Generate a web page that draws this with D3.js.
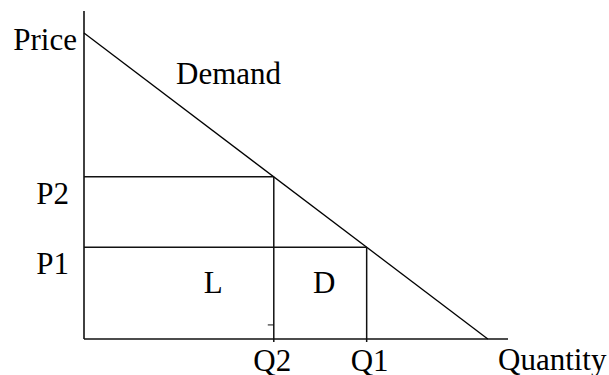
<!DOCTYPE html>
<html>
<head>
<meta charset="utf-8">
<script src="https://cdn.jsdelivr.net/npm/d3@7"></script>
<style>
  body { margin: 0; background: #fff; }
  text { font-family: "Liberation Serif", "Times New Roman", serif; font-size: 31px; fill: #000; }
</style>
</head>
<body>
<div id="canvas"></div>
<script>
"use strict";

let svgWidth = 609;
let svgHeight = 375;

/* Data */
// demand: P = 10 - Q
let demandQ = [0, 10];
let demandP = [10, 0];

// price levels and the quantities they meet on the demand line
let priceNames = ["P1", "P2"];
let priceValues = [3, 5.3];
let quantityNames = ["Q1", "Q2"];
let quantityValues = [7, 4.7];

// axis extents
let quantityAxisMax = 10.5;
let priceAxisMax = 10.72;

// area labels
let areaNames = ["L", "D"];
let areaQ = [3.2, 5.95];
let areaP = [1.5, 1.5];

/* Canvas */
let svg = d3.select("#canvas")
  .append("svg")
  .attr("width", svgWidth)
  .attr("height", svgHeight);

/* Scales */
let xScale = d3.scaleLinear()
  .domain([0, quantityAxisMax])
  .range([84, 508]);

let yScale = d3.scaleLinear()
  .domain([0, 10])
  .range([339, 33]);

/* Axes */
svg.append("line")
  .attr("x1", xScale(0))
  .attr("y1", yScale(0))
  .attr("x2", xScale(0))
  .attr("y2", yScale(priceAxisMax))
  .attr("stroke", "#111")
  .attr("stroke-width", 1.6);

svg.append("line")
  .attr("x1", xScale(0))
  .attr("y1", yScale(0))
  .attr("x2", xScale(quantityAxisMax))
  .attr("y2", yScale(0))
  .attr("stroke", "#111")
  .attr("stroke-width", 1.6);

/* Demand line */
let demandData = demandQ.map((q, i) => ({ q: q, p: demandP[i] }));

let line = d3.line()
  .x(d => xScale(d.q))
  .y(d => yScale(d.p));

svg.append("path")
  .datum(demandData)
  .attr("fill", "none")
  .attr("stroke", "#000")
  .attr("stroke-width", 1.3)
  .attr("d", line);

/* Price / quantity guide lines */
for (let i = 0; i < priceValues.length; i++) {
  let q = quantityValues[i];
  let p = priceValues[i];

  svg.append("line")
    .attr("x1", xScale(0))
    .attr("y1", yScale(p))
    .attr("x2", xScale(q))
    .attr("y2", yScale(p))
    .attr("stroke", "#111")
    .attr("stroke-width", 1.5);

  svg.append("line")
    .attr("x1", xScale(q))
    .attr("y1", yScale(p))
    .attr("x2", xScale(q))
    .attr("y2", yScale(0) + 3)
    .attr("stroke", "#111")
    .attr("stroke-width", 1.5);

  svg.append("text")
    .attr("x", xScale(0) - 15)
    .attr("y", yScale(p) + 27)
    .attr("text-anchor", "end")
    .text(priceNames[i]);

  svg.append("text")
    .attr("x", xScale(q) + (i === 0 ? 3 : -1.5))
    .attr("y", yScale(0) + 32)
    .attr("text-anchor", "middle")
    .text(quantityNames[i]);
}

/* small stray dash left of Q2 */
svg.append("line")
  .attr("x1", xScale(quantityValues[1]) - 6)
  .attr("y1", yScale(0.46))
  .attr("x2", xScale(quantityValues[1]))
  .attr("y2", yScale(0.46))
  .attr("stroke", "#111")
  .attr("stroke-width", 1);

/* Area labels */
areaNames.forEach((name, i) => {
  svg.append("text")
    .attr("x", xScale(areaQ[i]))
    .attr("y", yScale(areaP[i]))
    .attr("text-anchor", "middle")
    .text(name);
});

/* Axis labels */
svg.append("text")
  .attr("x", xScale(0) - 7)
  .attr("y", yScale(10) + 17)
  .attr("text-anchor", "end")
  .text("Price");

svg.append("text")
  .attr("x", 498)
  .attr("y", yScale(0) + 31)
  .text("Quantity");

svg.append("text")
  .attr("x", xScale(2.28))
  .attr("y", yScale(8.33))
  .text("Demand");
</script>
</body>
</html>
